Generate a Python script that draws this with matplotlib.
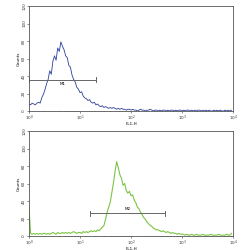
import numpy as np
import matplotlib.pyplot as plt
from matplotlib.ticker import LogLocator, NullFormatter

# histogram counts, 128 log-spaced channels from 10^0 to 10^4
counts_top = [8, 7, 9, 8, 7, 9, 10, 9,
              15, 19, 24, 31, 36, 46, 42, 57,
              63, 58, 72, 68, 79, 74, 70, 63,
              61, 52, 50, 41, 36, 33, 27, 25,
              21, 22, 17, 15, 14, 12, 13, 10,
              9, 10, 7, 8, 6, 5, 6, 4,
              5, 4, 3, 4, 3, 4, 3, 2,
              3, 2, 3, 2, 2, 1, 2, 2,
              1, 2, 1, 1, 0, 1, 2, 1,
              1, 0, 1, 1, 2, 1, 0, 1,
              1, 0, 1, 0, 1, 1, 0, 1,
              0, 1, 1, 0, 1, 0, 1, 1,
              0, 1, 0, 1, 1, 0, 1, 0,
              1, 0, 1, 1, 0, 1, 0, 1,
              0, 1, 0, 0, 1, 0, 1, 0,
              1, 0, 0, 1, 0, 1, 0, 1]

counts_bottom = [33, 3, 2, 3, 2, 3, 2, 3,
                 2, 3, 3, 2, 3, 2, 3, 4,
                 3, 2, 4, 3, 3, 4, 3, 4,
                 3, 4, 3, 4, 5, 4, 3, 4,
                 4, 3, 5, 4, 5, 4, 5, 6,
                 5, 6, 5, 7, 6, 8, 10, 12,
                 19, 27, 33, 39, 50, 61, 74, 85,
                 78, 70, 66, 58, 60, 52, 49, 51,
                 46, 47, 41, 38, 33, 31, 27, 24,
                 21, 19, 16, 14, 12, 11, 9, 8,
                 7, 7, 6, 5, 6, 5, 4, 5,
                 4, 3, 4, 3, 3, 2, 3, 2,
                 2, 2, 1, 2, 1, 1, 2, 1,
                 1, 2, 1, 1, 1, 2, 1, 1,
                 1, 1, 2, 1, 1, 1, 1, 2,
                 1, 1, 1, 1, 2, 1, 1, 3]

# markers: (label, start, end, height)
marker_top = ('M1', 1.0, 21.0, 36)
marker_bottom = ('M2', 16.0, 460.0, 26)

yticks = [0, 20, 40, 60, 80, 100, 120]
xticks = [1, 10, 100, 1000, 10000]
xticklabels = ['$10^0$', '$10^1$', '$10^2$', '$10^3$', '$10^4$']

fig = plt.figure(figsize=(2.52, 2.5), dpi=100)
ax1 = fig.add_axes([0.115, 0.556, 0.81, 0.42])
ax2 = fig.add_axes([0.115, 0.056, 0.81, 0.42])


def draw(ax, counts, color, lw, marker, text_above):
    n = len(counts)
    x = 10 ** (np.arange(n) * 4.0 / n)
    ax.plot(x, counts, color=color, lw=lw)
    label, x0, x1, h = marker
    ax.plot([x0, x1], [h, h], color='#666666', lw=0.7)
    ax.plot([x0, x0], [h - 3, h + 3], color='#666666', lw=0.7)
    ax.plot([x1, x1], [h - 3, h + 3], color='#666666', lw=0.7)
    xm = np.sqrt(x0 * x1)
    if text_above:
        ax.text(xm, h + 2.5, label, fontsize=3, ha='center', va='bottom')
    else:
        ax.text(xm, h - 2.5, label, fontsize=3, ha='center', va='top')
    ax.set_xscale('log')
    ax.set_xlim(1, 10000)
    ax.set_ylim(0, 120)
    ax.set_yticks(yticks)
    ax.set_yticklabels([str(v) for v in yticks], rotation=90, va='center')
    ax.set_xticks(xticks)
    ax.set_xticklabels(xticklabels)
    ax.xaxis.set_minor_locator(LogLocator(base=10, subs=np.arange(2, 10)))
    ax.xaxis.set_minor_formatter(NullFormatter())
    ax.tick_params(labelsize=3, length=1.5, width=0.4, pad=0.5, colors='#333333')
    ax.tick_params(which='minor', length=1, width=0.3)
    for s in ax.spines.values():
        s.set_linewidth(0.6)
        s.set_color('#555555')
    ax.set_ylabel('Counts', fontsize=3, labelpad=1)
    ax.set_xlabel('FL1-H', fontsize=3, labelpad=-0.5)


draw(ax1, counts_top, '#2b3f9c', 0.6, marker_top, False)
draw(ax2, counts_bottom, '#7cc443', 0.8, marker_bottom, True)

fig.savefig('out.png', dpi=100)
